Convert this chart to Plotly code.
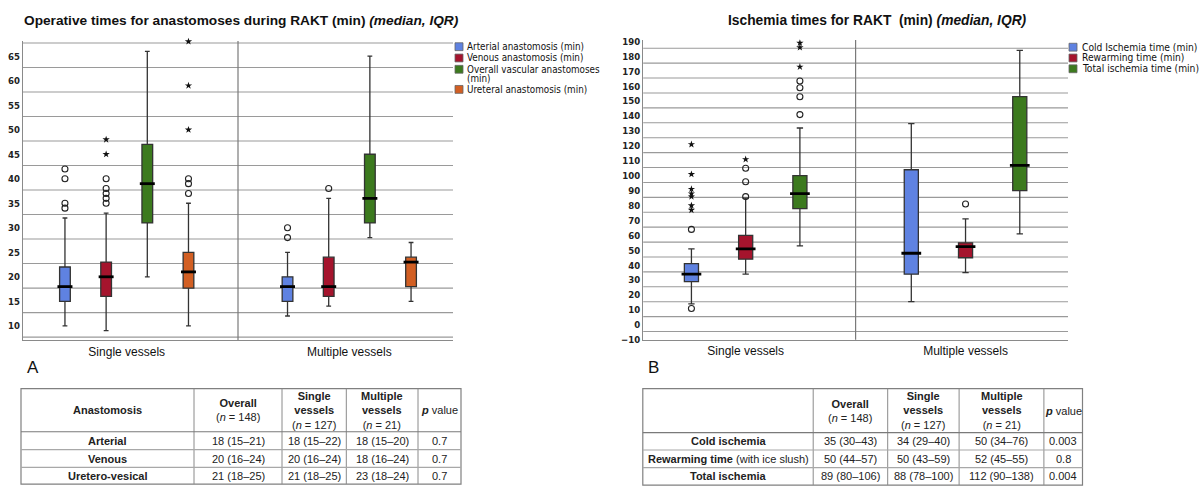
import plotly.graph_objects as go

W, H = 1199, 492

# ------------------------------------------------------------------ data
groups = ["Single vessels", "Multiple vessels"]

# Panel A: operative times for anastomoses (min)
a_names = ["Arterial anastomosis (min)", "Venous anastomosis (min)",
           "Overall vascular anastomoses<br>(min)", "Ureteral anastomosis (min)"]
a_colors = ["#5F82E1", "#A5142D", "#3C7A1E", "#D25F23"]
a_lower = [[10, 12], [9, 14], [20, 28], [10, 15]]
a_q1 = [[15, 15], [16, 16], [31, 31], [17.7, 18]]
a_median = [[18, 18], [20, 18], [39, 36], [21, 23]]
a_q3 = [[22, 20], [23, 24], [47, 45], [25, 24]]
a_upper = [[32, 25], [33, 36], [66, 65], [35, 27]]
a_circles = [[[34, 35, 40, 42], [28, 30]],
             [[35, 36, 37, 38, 40], [38]],
             [[], []],
             [[37, 39, 40], []]]
a_stars = [[[], []],
           [[45, 48], []],
           [[], []],
           [[50, 59, 68], []]]
a_yticks = [10, 15, 20, 25, 30, 35, 40, 45, 50, 55, 60, 65]
a_grid = [7.7, 12.7, 17.7, 22.7, 27.7, 32.7, 37.7, 42.7, 47.7, 52.7, 57.7, 62.7, 67.7]

# Panel B: ischemia times (min)
b_names = ["Cold Ischemia time (min)", "Rewarming time (min)", "Total ischemia time (min)"]
b_colors = ["#5F82E1", "#A5142D", "#3C7A1E"]
b_lower = [[14, 15.5], [34, 35], [53, 61]]
b_q1 = [[29, 34], [44, 45], [78, 90]]
b_median = [[34, 48], [51, 52.5], [88, 107]]
b_q3 = [[41, 104], [60, 55], [100, 153]]
b_upper = [[51, 135], [85, 71], [132, 184]]
b_circles = [[[11, 64], []],
             [[86, 96, 105], [81]],
             [[141, 153, 159, 163.5], []]]
b_stars = [[[77, 80, 86, 88, 91, 101, 121], []],
           [[111], []],
           [[173, 186, 189], []]]
b_yticks = [-10, 0, 10, 20, 30, 40, 50, 60, 70, 80, 90, 100, 110, 120, 130,
            140, 150, 160, 170, 180, 190]
b_grid = [-4.5, 5.5, 15.5, 25.5, 35.5, 45.5, 55.5, 65.5, 75.5, 85.5, 95.5,
          105.5, 115.5, 125.5, 135.5, 145.5, 155.5, 165.5, 175.5, 185.5]

# Tables
a_tab_header = ["<b>Anastomosis</b>", "<b>Overall</b><br>(<i>n</i> = 148)",
                "<b>Single<br>vessels</b><br>(<i>n</i> = 127)",
                "<b>Multiple<br>vessels</b><br>(<i>n</i> = 21)", "<b><i>p</i></b> value"]
a_tab_labels = ["<b>Arterial</b>", "<b>Venous</b>", "<b>Uretero-vesical</b>"]
a_tab_overall = ["18 (15–21)", "20 (16–24)", "21 (18–25)"]
a_tab_single = ["18 (15–22)", "20 (16–24)", "21 (18–25)"]
a_tab_multiple = ["18 (15–20)", "18 (16–24)", "23 (18–24)"]
a_tab_p = ["0.7", "0.7", "0.7"]

b_tab_header = ["", "<b>Overall</b><br>(<i>n</i> = 148)",
                "<b>Single<br>vessels</b><br>(<i>n</i> = 127)",
                "<b>Multiple<br>vessels</b><br>(<i>n</i> = 21)", "<b><i>p</i></b> value"]
b_tab_labels = ["<b>Cold ischemia</b>", "<b>Rewarming time</b> (with ice slush)",
                "<b>Total ischemia</b>"]
b_tab_overall = ["35 (30–43)", "50 (44–57)", "89 (80–106)"]
b_tab_single = ["34 (29–40)", "50 (43–59)", "88 (78–100)"]
b_tab_multiple = ["50 (34–76)", "52 (45–55)", "112 (90–138)"]
b_tab_p = ["0.003", "0.8", "0.004"]

# ------------------------------------------------------------------ styling
NARROW = "Liberation Sans Narrow, Arial Narrow, DejaVu Sans Condensed, sans-serif"
SANS = "Liberation Sans, Arial, Helvetica, sans-serif"
GRID = "#9a9a9a"
AXLINE = "#8a8a8a"
BOXGAP = 0.26
BOXGROUPGAP = 0.74
XRANGE = [-0.466, 1.466]


def X(px):
    return px / W


def Y(py):
    return 1 - py / H


fig = go.Figure()
shapes = []
annotations = []

panels = [
    dict(xa="x", ya="y", xdom=(23, 453), ydom=(37.7, 342.3), yrange=[7.1, 68.1],
         names=a_names, colors=a_colors, lo=a_lower, q1=a_q1, med=a_median, q3=a_q3,
         up=a_upper, circ=a_circles, stars=a_stars, yticks=a_yticks, grid=a_grid),
    dict(xa="x2", ya="y2", xdom=(643.2, 1068), ydom=(36.7, 342), yrange=[-10, 191],
         names=b_names, colors=b_colors, lo=b_lower, q1=b_q1, med=b_median, q3=b_q3,
         up=b_upper, circ=b_circles, stars=b_stars, yticks=b_yticks, grid=b_grid),
]

for p in panels:
    n = len(p["names"])
    slot = (1 - BOXGAP) / n
    bw = slot * (1 - BOXGROUPGAP)
    px_per_unit = (p["xdom"][1] - p["xdom"][0]) / (XRANGE[1] - XRANGE[0])
    for j in range(n):
        off = (j - (n - 1) / 2) * slot
        xs = [gi + off for gi in range(len(groups))]
        fig.add_trace(go.Box(
            x=xs, q1=p["q1"][j], median=p["med"][j], q3=p["q3"][j],
            lowerfence=p["lo"][j], upperfence=p["up"][j], width=bw,
            fillcolor=p["colors"][j], line=dict(color="#333333", width=1.3),
            whiskerwidth=0.45, boxpoints=False, name=p["names"][j],
            showlegend=False, xaxis=p["xa"], yaxis=p["ya"], hoverinfo="skip"))
        fig.add_trace(go.Scatter(
            x=xs, y=p["med"][j], mode="markers", showlegend=False, hoverinfo="skip",
            marker=dict(symbol="line-ew", size=bw * px_per_unit,
                        line=dict(color="black", width=2.8)),
            xaxis=p["xa"], yaxis=p["ya"]))
        cx, cy, sx, sy = [], [], [], []
        for gi in range(len(groups)):
            cx += [gi + off] * len(p["circ"][j][gi])
            cy += p["circ"][j][gi]
            sx += [gi + off] * len(p["stars"][j][gi])
            sy += p["stars"][j][gi]
        fig.add_trace(go.Scatter(
            x=cx, y=cy, mode="markers", showlegend=False, hoverinfo="skip",
            cliponaxis=False,
            marker=dict(symbol="circle-open", size=6, color="#222",
                        line=dict(color="#222", width=1.1)),
            xaxis=p["xa"], yaxis=p["ya"]))
        fig.add_trace(go.Scatter(
            x=sx, y=sy, mode="markers", showlegend=False, hoverinfo="skip",
            cliponaxis=False,
            marker=dict(symbol="star", size=5.5, color="#111", line=dict(width=0)),
            xaxis=p["xa"], yaxis=p["ya"]))

    # grid lines and divider
    yref = p["ya"]
    for g in p["grid"]:
        shapes.append(dict(type="line", xref=p["xa"] + " domain", yref=yref,
                           x0=0, x1=1, y0=g, y1=g, layer="below",
                           line=dict(color=GRID, width=1.1)))
    shapes.append(dict(type="line", xref=p["xa"], yref=yref + " domain",
                       x0=0.5, x1=0.5, y0=0, y1=1, layer="below",
                       line=dict(color="#7a7a7a", width=1.2)))

    axis_x = dict(domain=[X(p["xdom"][0]), X(p["xdom"][1])], range=XRANGE,
                  tickvals=list(range(len(groups))), ticktext=groups,
                  showgrid=False, zeroline=False, showline=True, linecolor=AXLINE,
                  linewidth=1.3, ticks="", anchor=p["ya"],
                  tickfont=dict(family=SANS, size=12, color="#111"))
    axis_y = dict(domain=[Y(p["ydom"][1]), Y(p["ydom"][0])], range=p["yrange"],
                  tickvals=p["yticks"], showgrid=False, zeroline=False,
                  showline=True, linecolor=AXLINE, linewidth=1.3, ticks="",
                  anchor=p["xa"],
                  tickfont=dict(family=NARROW, size=9.5, color="#222", weight="bold"))
    if p["xa"] == "x":
        fig.update_layout(xaxis=axis_x, yaxis=axis_y)
    else:
        fig.update_layout(xaxis2=axis_x, yaxis2=axis_y)

# ------------------------------------------------------------------ legends
legends = [
    dict(names=a_names, colors=a_colors, sq_x=455, txt_x=465, ys=[43.5, 55, 66.5, 87],
         size=9.8, line_h=9.6),
    dict(names=b_names, colors=b_colors, sq_x=1069, txt_x=1079.5, ys=[44, 55, 66],
         size=10.2, line_h=10.5),
]
for lg in legends:
    for name, col, yc in zip(lg["names"], lg["colors"], lg["ys"]):
        shapes.append(dict(type="rect", xref="paper", yref="paper",
                           x0=X(lg["sq_x"]), x1=X(lg["sq_x"] + 8),
                           y0=Y(yc + 4), y1=Y(yc - 4), fillcolor=col,
                           line=dict(color="#666", width=0.8)))
        for k, line in enumerate(name.split("<br>")):
            annotations.append(dict(xref="paper", yref="paper", x=X(lg["txt_x"]),
                                    y=Y(yc + k * lg["line_h"]), xanchor="left",
                                    yanchor="middle", showarrow=False, text=line,
                                    font=dict(family=NARROW, size=lg["size"], color="#111")))

# ------------------------------------------------------------------ titles
annotations.append(dict(xref="paper", yref="paper", x=X(22), y=Y(17), xanchor="left",
                        yanchor="middle", showarrow=False,
                        text="<b>Operative times for anastomoses during RAKT (min) <i>(median, IQR)</i></b>",
                        font=dict(family=SANS, size=13.7, color="#111")))
annotations.append(dict(xref="paper", yref="paper", x=X(726), y=Y(17), xanchor="left",
                        yanchor="middle", showarrow=False,
                        text="<b>Ischemia times for RAKT  (min) <i>(median, IQR)</i></b>",
                        font=dict(family=SANS, size=13.8, color="#111")))
for lab, xp in (("A", 25), ("B", 646)):
    annotations.append(dict(xref="paper", yref="paper", x=X(xp), y=Y(370), xanchor="left",
                            yanchor="middle", showarrow=False, text=lab,
                            font=dict(family=SANS, size=17, color="#111")))

# ------------------------------------------------------------------ tables
tables = [
    dict(cols=[21, 194, 282, 346.3, 418, 461], rows=[391.7, 435.7, 454, 472, 489],
         header=a_tab_header,
         body=[a_tab_labels, a_tab_overall, a_tab_single, a_tab_multiple, a_tab_p]),
    dict(cols=[642.8, 813.2, 887.7, 959.1, 1043.9, 1082.5],
         rows=[391.7, 436.7, 454.3, 472.3, 490],
         header=b_tab_header,
         body=[b_tab_labels, b_tab_overall, b_tab_single, b_tab_multiple, b_tab_p]),
]
for t in tables:
    c, r = t["cols"], t["rows"]
    shapes.append(dict(type="rect", xref="paper", yref="paper", x0=X(c[0]), x1=X(c[-1]),
                       y0=Y(r[-1]), y1=Y(r[0]), line=dict(color="#808080", width=1.2)))
    for cx in c[1:-1]:
        shapes.append(dict(type="line", xref="paper", yref="paper", x0=X(cx), x1=X(cx),
                           y0=Y(r[-1]), y1=Y(r[0]), line=dict(color="#8a8a8a", width=1)))
    for i, ry in enumerate(r[1:-1]):
        shapes.append(dict(type="line", xref="paper", yref="paper", x0=X(c[0]), x1=X(c[-1]),
                           y0=Y(ry), y1=Y(ry),
                           line=dict(color="#7a7a7a" if i == 0 else "#a8a8a8", width=1.2)))
    for ci in range(len(c) - 1):
        xc = (c[ci] + c[ci + 1]) / 2
        annotations.append(dict(xref="paper", yref="paper", x=X(xc),
                                y=Y((r[0] + r[1]) / 2), xanchor="center", yanchor="middle",
                                showarrow=False, text=t["header"][ci], align="center",
                                font=dict(family=SANS, size=11, color="#222")))
        for ri in range(len(r) - 2):
            annotations.append(dict(xref="paper", yref="paper", x=X(xc),
                                    y=Y((r[ri + 1] + r[ri + 2]) / 2), xanchor="center",
                                    yanchor="middle", showarrow=False,
                                    text=t["body"][ci][ri],
                                    font=dict(family=SANS, size=11, color="#222")))

fig.update_layout(
    width=W, height=H, autosize=False,
    margin=dict(l=0, r=0, t=0, b=0),
    paper_bgcolor="white", plot_bgcolor="white",
    showlegend=False,
    shapes=shapes, annotations=annotations,
)

fig.write_html("out.html", config={"displayModeBar": False},
               post_script="document.body.style.margin='0';")
